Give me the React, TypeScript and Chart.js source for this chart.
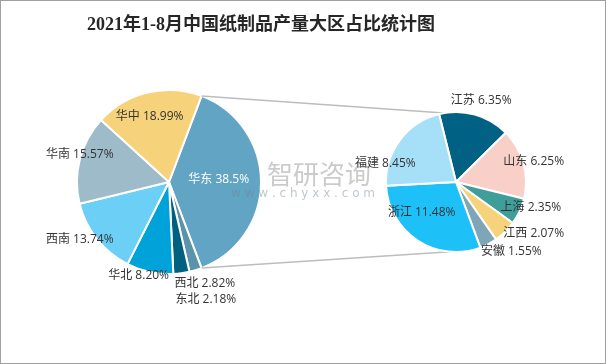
import React, { useEffect, useRef } from 'react';
import { Chart, registerables } from 'chart.js';
Chart.register(...registerables);

const titleText = '2021年1-8月中国纸制品产量大区占比统计图';
const regionNames = ['华东', '东北', '西北', '华北', '西南', '华南', '华中'];
const regionValues = [38.5, 2.18, 2.82, 8.2, 13.74, 15.57, 18.99];
const regionValueText = ['38.5%', '2.18%', '2.82%', '8.20%', '13.74%', '15.57%', '18.99%'];
const provinceNames = ['江苏', '山东', '上海', '江西', '安徽', '浙江', '福建'];
const provinceValues = [6.35, 6.25, 2.35, 2.07, 1.55, 11.48, 8.45];
const provinceValueText = ['6.35%', '6.25%', '2.35%', '2.07%', '1.55%', '11.48%', '8.45%'];

const regionColors = ['#62A4C4', '#5A93AA', '#00607F', '#00A2DA', '#6CCFF6', '#9DBBC9', '#F6D27A'];
const provinceColors = ['#006184', '#F8D0C8', '#3F9E9A', '#F6D27A', '#7FA6B6', '#1EC0F8', '#A6E0F8'];
const regionLabelColors = ['#FFFFFF', '#333333', '#333333', '#333333', '#333333', '#333333', '#333333'];
const provinceLabelColors = ['#333333', '#333333', '#333333', '#333333', '#333333', '#333333', '#333333'];
// label anchor offsets in units of the pie radius (layout only)
const regionLabelPos = [[0.54, -0.03], [0.4, 1.28], [0.39, 1.1], [-0.33, 1.02], [-0.97, 0.63], [-0.97, -0.3], [-0.21, -0.71]];
const provinceLabelPos = [[0.36, -1.17], [1.11, -0.29], [1.07, 0.36], [1.11, 0.74], [0.79, 1.0], [-0.49, 0.43], [-1.01, -0.26]];

const W = 606;
const H = 364;
const labelFont = '12px "Open Sans", "Noto Sans CJK SC", sans-serif';

const labelPlugin = {
  id: 'sliceLabels',
  afterDatasetsDraw(chart: any, _args: any, opts: any) {
    const meta = chart.getDatasetMeta(0);
    const ctx = chart.ctx;
    ctx.save();
    ctx.font = labelFont;
    ctx.textAlign = 'center';
    ctx.textBaseline = 'middle';
    meta.data.forEach((arc: any, i: number) => {
      const { x, y, outerRadius } = arc.getProps(['x', 'y', 'outerRadius'], true);
      const [fx, fy] = opts.positions[i];
      ctx.fillStyle = opts.colors[i];
      ctx.fillText(`${opts.names[i]} ${opts.texts[i]}`, x + fx * outerRadius, y + fy * outerRadius);
    });
    ctx.restore();
  },
};

export default function App() {
  const leftRef = useRef<HTMLCanvasElement>(null);
  const rightRef = useRef<HTMLCanvasElement>(null);

  useEffect(() => {
    document.body.style.margin = '0';
    const left = new Chart(leftRef.current!, {
      type: 'pie',
      data: {
        labels: regionNames,
        datasets: [{ data: regionValues, backgroundColor: regionColors, borderColor: '#FFFFFF', borderWidth: 2 }],
      },
      options: {
        responsive: false,
        animation: false,
        rotation: 20.7,
        radius: 92,
        layout: { padding: { left: 0, right: 268, top: 0, bottom: 0 } },
        plugins: {
          legend: { display: false },
          tooltip: { enabled: false },
          sliceLabels: { names: regionNames, texts: regionValueText, positions: regionLabelPos, colors: regionLabelColors },
        } as any,
      },
      plugins: [labelPlugin],
    });

    const connectorPlugin = {
      id: 'connector',
      beforeDatasetsDraw(chart: any) {
        const lArc: any = left.getDatasetMeta(0).data[0];
        const rArc: any = chart.getDatasetMeta(0).data[0];
        if (!lArc || !rArc) return;
        const L = lArc.getProps(['x', 'y', 'outerRadius', 'startAngle', 'endAngle'], true);
        const R = rArc.getProps(['x', 'y', 'outerRadius'], true);
        const ctx = chart.ctx;
        const topA = (-100 * Math.PI) / 180;
        const botA = (95 * Math.PI) / 180;
        ctx.save();
        ctx.strokeStyle = '#BDBDBD';
        ctx.lineWidth = 1.5;
        ctx.beginPath();
        ctx.moveTo(L.x + L.outerRadius * Math.cos(L.startAngle), L.y + L.outerRadius * Math.sin(L.startAngle));
        ctx.lineTo(R.x + R.outerRadius * Math.cos(topA), R.y + R.outerRadius * Math.sin(topA));
        ctx.moveTo(L.x + L.outerRadius * Math.cos(L.endAngle), L.y + L.outerRadius * Math.sin(L.endAngle));
        ctx.lineTo(R.x + R.outerRadius * Math.cos(botA), R.y + R.outerRadius * Math.sin(botA));
        ctx.stroke();
        ctx.restore();
      },
      afterDraw(chart: any) {
        const ctx = chart.ctx;
        ctx.save();
        ctx.textAlign = 'center';
        ctx.textBaseline = 'middle';
        ctx.font = '26px "Noto Sans CJK SC", sans-serif';
        ctx.fillStyle = 'rgba(140,140,140,0.45)';
        ctx.fillText('智研咨询', 319, 174);
        ctx.font = '12px "DejaVu Sans", sans-serif';
        ctx.fillStyle = 'rgba(110,130,150,0.45)';
        ctx.fillText('w w w . c h y x x . c o m', 303, 194);
        ctx.restore();
      },
    };

    const right = new Chart(rightRef.current!, {
      type: 'pie',
      data: {
        labels: provinceNames,
        datasets: [{ data: provinceValues, backgroundColor: provinceColors, borderColor: '#FFFFFF', borderWidth: 2 }],
      },
      options: {
        responsive: false,
        animation: false,
        rotation: -14,
        radius: 70,
        layout: { padding: { left: 306, right: 0, top: 0, bottom: 0 } },
        plugins: {
          legend: { display: false },
          tooltip: { enabled: false },
          sliceLabels: { names: provinceNames, texts: provinceValueText, positions: provinceLabelPos, colors: provinceLabelColors },
        } as any,
      },
      plugins: [labelPlugin, connectorPlugin],
    });

    return () => {
      right.destroy();
      left.destroy();
    };
  }, []);

  return (
    <div style={{ position: 'relative', width: W, height: H, background: '#FFFFFF', overflow: 'hidden' }}>
      <canvas ref={leftRef} width={W} height={H} style={{ position: 'absolute', left: 0, top: 0, width: W, height: H }} />
      <canvas ref={rightRef} width={W} height={H} style={{ position: 'absolute', left: 0, top: 0, width: W, height: H }} />
      <div
        style={{
          position: 'absolute',
          left: 0,
          top: 10,
          width: 522,
          textAlign: 'center',
          font: 'bold 18px "Liberation Serif", "DejaVu Serif", "Noto Sans CJK SC", serif',
          color: '#262626',
          lineHeight: '28px',
        }}
      >
        {titleText}
      </div>
      <div
        style={{
          position: 'absolute',
          left: 0,
          top: 0,
          width: W,
          height: H,
          boxSizing: 'border-box',
          border: '1px solid #A0A0A0',
          pointerEvents: 'none',
        }}
      />
    </div>
  );
}
